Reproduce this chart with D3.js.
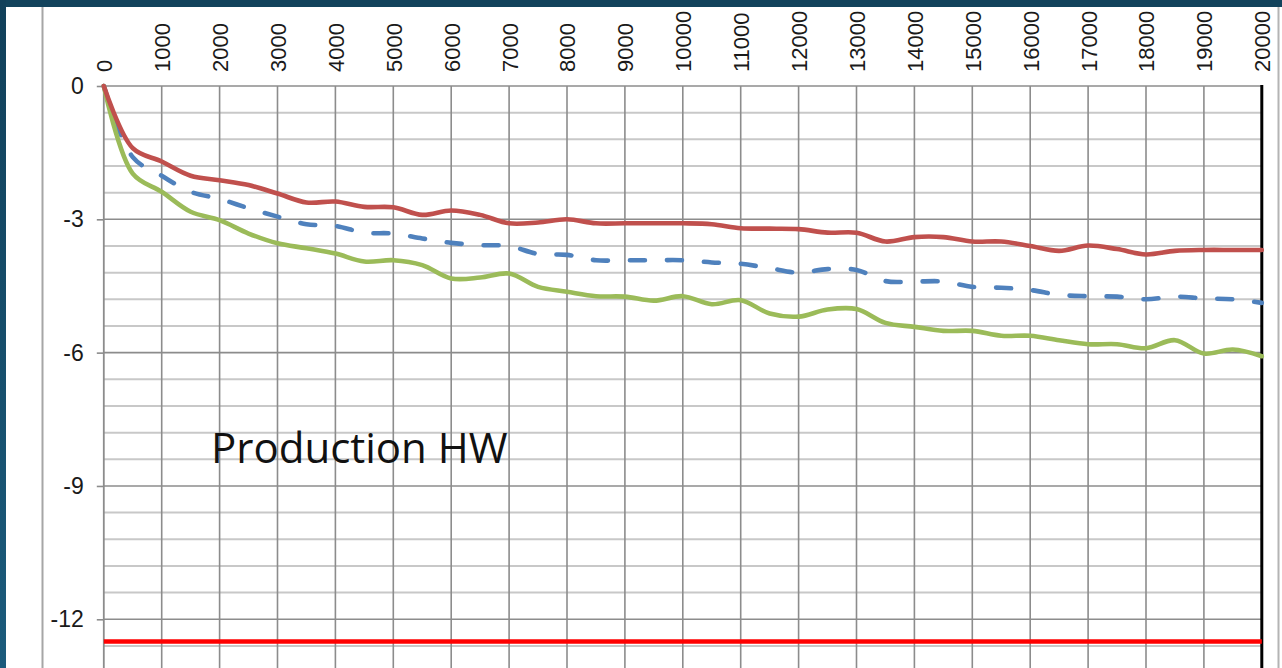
<!DOCTYPE html>
<html>
<head>
<meta charset="utf-8">
<script src="https://cdn.jsdelivr.net/npm/d3@7"></script>
<style>
  html, body { margin: 0; padding: 0; background: #fff; overflow: hidden; }
  svg { display: block; }
  .axis text { font-family: "Liberation Sans", Arial, sans-serif; font-size: 22px; fill: #1a1a1a; }
  .axis.yaxis text { font-size: 23px; }
</style>
</head>
<body>
<div class="d3"></div>
<script>
// distance along x (every 500)
const distance = [0, 500, 1000, 1500, 2000, 2500, 3000, 3500, 4000, 4500, 5000,
  5500, 6000, 6500, 7000, 7500, 8000, 8500, 9000, 9500, 10000,
  10500, 11000, 11500, 12000, 12500, 13000, 13500, 14000, 14500, 15000,
  15500, 16000, 16500, 17000, 17500, 18000, 18500, 19000, 19500, 20000];

const redSeries = [0, -1.40, -1.70, -2.02, -2.12, -2.23, -2.42, -2.62, -2.60, -2.72, -2.73,
  -2.90, -2.80, -2.90, -3.09, -3.07, -3.00, -3.09, -3.09, -3.09, -3.09,
  -3.11, -3.20, -3.21, -3.22, -3.30, -3.30, -3.50, -3.40, -3.40, -3.50,
  -3.50, -3.60, -3.71, -3.59, -3.67, -3.79, -3.71, -3.69, -3.69, -3.69];

const blueSeries = [0, -1.60, -2.02, -2.38, -2.54, -2.75, -2.94, -3.11, -3.15, -3.30, -3.32,
  -3.43, -3.53, -3.58, -3.60, -3.78, -3.80, -3.92, -3.92, -3.92, -3.92,
  -3.97, -4.00, -4.10, -4.20, -4.12, -4.14, -4.39, -4.40, -4.40, -4.52,
  -4.54, -4.59, -4.70, -4.73, -4.74, -4.80, -4.74, -4.78, -4.80, -4.88];

const greenSeries = [0, -1.97, -2.38, -2.83, -3.02, -3.32, -3.54, -3.65, -3.77, -3.95, -3.92,
  -4.03, -4.33, -4.31, -4.22, -4.52, -4.63, -4.73, -4.74, -4.83, -4.73,
  -4.91, -4.82, -5.12, -5.19, -5.03, -5.02, -5.33, -5.42, -5.51, -5.51,
  -5.62, -5.62, -5.72, -5.81, -5.81, -5.90, -5.72, -6.02, -5.93, -6.08];

const limitValue = -12.5;

const xTicks = [0, 1000, 2000, 3000, 4000, 5000, 6000, 7000, 8000, 9000, 10000,
  11000, 12000, 13000, 14000, 15000, 16000, 17000, 18000, 19000, 20000];
const yTicks = [0, -3, -6, -9, -12];
const yMinor = [0, -0.6, -1.2, -1.8, -2.4, -3, -3.6, -4.2, -4.8, -5.4, -6, -6.6, -7.2,
  -7.8, -8.4, -9, -9.6, -10.2, -10.8, -11.4, -12, -12.6, -13.2, -13.8];

const chartLabel = 'Production HW';

let width = 1282;
let height = 668;

let svg = d3
  .select('.d3')
  .append('svg')
  .attr('width', width)
  .attr('height', height);

// frame: dark slide edge on top and left
let defs = svg.append('defs');
let grad = defs.append('linearGradient')
  .attr('id', 'edge')
  .attr('x1', 0).attr('y1', 0).attr('x2', 0).attr('y2', 1);
grad.append('stop').attr('offset', '0%').attr('stop-color', '#11405a');
grad.append('stop').attr('offset', '100%').attr('stop-color', '#1b5b7c');

svg.append('rect').attr('x', 0).attr('y', 0).attr('width', width).attr('height', height).attr('fill', '#fff');
svg.append('rect').attr('x', 0).attr('y', 0).attr('width', width).attr('height', 7).attr('fill', '#12435c');
svg.append('rect').attr('x', 0).attr('y', 0).attr('width', 6).attr('height', height).attr('fill', 'url(#edge)');

// chart area borders
svg.append('line').attr('x1', 42.5).attr('x2', 42.5).attr('y1', 7).attr('y2', height)
  .attr('stroke', '#a6a6a6').attr('stroke-width', 2);
svg.append('line').attr('x1', 1278.5).attr('x2', 1278.5).attr('y1', 7).attr('y2', height)
  .attr('stroke', '#b4b4b4').attr('stroke-width', 2);

let x = d3.scaleLinear().domain([0, 20000]).range([103.8, 1261.8]);
let y = d3.scaleLinear().domain([0, -15]).range([86, 86 + 15 * 44.44]);

let grid = svg.append('g');

// minor horizontal lines
grid.selectAll('line.minor')
  .data(yMinor.filter(d => yTicks.indexOf(d) < 0))
  .enter()
  .append('line')
  .attr('class', 'minor')
  .attr('x1', x(0)).attr('x2', x(20000))
  .attr('y1', d => y(d)).attr('y2', d => y(d))
  .attr('stroke', '#c8c8c8')
  .attr('stroke-width', 2);

// major horizontal lines
grid.selectAll('line.major')
  .data(yTicks)
  .enter()
  .append('line')
  .attr('class', 'major')
  .attr('x1', x(0)).attr('x2', x(20000))
  .attr('y1', d => y(d)).attr('y2', d => y(d))
  .attr('stroke', '#8c8c8c')
  .attr('stroke-width', 1.6);

// vertical lines
grid.selectAll('line.vert')
  .data(xTicks.filter(d => d > 0 && d < 20000))
  .enter()
  .append('line')
  .attr('class', 'vert')
  .attr('x1', d => x(d)).attr('x2', d => x(d))
  .attr('y1', y(0)).attr('y2', height)
  .attr('stroke', '#8c8c8c')
  .attr('stroke-width', 1.6);

// y axis
let yAxis = svg.append('g')
  .attr('class', 'axis yaxis')
  .attr('transform', 'translate(' + x(0) + ',0)')
  .call(d3.axisLeft(y).tickValues(yTicks).tickSize(7).tickPadding(13).tickFormat(d => String(d)));
yAxis.select('.domain').remove();
yAxis.selectAll('.tick line').attr('stroke', '#8c8c8c').attr('stroke-width', 1.6);
svg.append('line')
  .attr('x1', x(0)).attr('x2', x(0)).attr('y1', y(0)).attr('y2', height)
  .attr('stroke', '#8c8c8c').attr('stroke-width', 1.8);

// x axis on top, rotated labels
let xAxis = svg.append('g')
  .attr('class', 'axis')
  .attr('transform', 'translate(0,' + y(0) + ')')
  .call(d3.axisTop(x).tickValues(xTicks).tickSize(0).tickFormat(d => String(d)));
xAxis.select('.domain').remove();
xAxis.selectAll('.tick text')
  .attr('transform', 'rotate(-90)')
  .attr('x', 14)
  .attr('y', 0)
  .attr('dy', '0.36em')
  .attr('text-anchor', 'start');

// right edge
svg.append('line')
  .attr('x1', x(20000)).attr('x2', x(20000)).attr('y1', y(0) - 1).attr('y2', height)
  .attr('stroke', '#000').attr('stroke-width', 3);

// limit line
svg.append('line')
  .attr('x1', x(0)).attr('x2', x(20000))
  .attr('y1', y(limitValue)).attr('y2', y(limitValue))
  .attr('stroke', '#ff0000')
  .attr('stroke-width', 4.5);

// series
let line = d3.line()
  .x(d => x(d[0]))
  .y(d => y(d[1]))
  .curve(d3.curveCatmullRom.alpha(0.5));

let series = [
  { values: blueSeries, color: '#4f81bd', dash: '15,22' },
  { values: greenSeries, color: '#9bbb59', dash: null },
  { values: redSeries, color: '#c0504d', dash: null }
];

svg.append('g')
  .selectAll('path')
  .data(series)
  .enter()
  .append('path')
  .attr('d', s => line(distance.map((d, i) => [d, s.values[i]])))
  .attr('fill', 'none')
  .attr('stroke', s => s.color)
  .attr('stroke-width', 4.6)
  .attr('stroke-linecap', 'round')
  .attr('stroke-linejoin', 'round')
  .attr('stroke-dasharray', s => s.dash);

svg.append('text')
  .attr('x', 211)
  .attr('y', 463)
  .attr('font-family', '"Open Sans", sans-serif')
  .attr('font-size', 42)
  .attr('fill', '#111')
  .text(chartLabel);
</script>
</body>
</html>
